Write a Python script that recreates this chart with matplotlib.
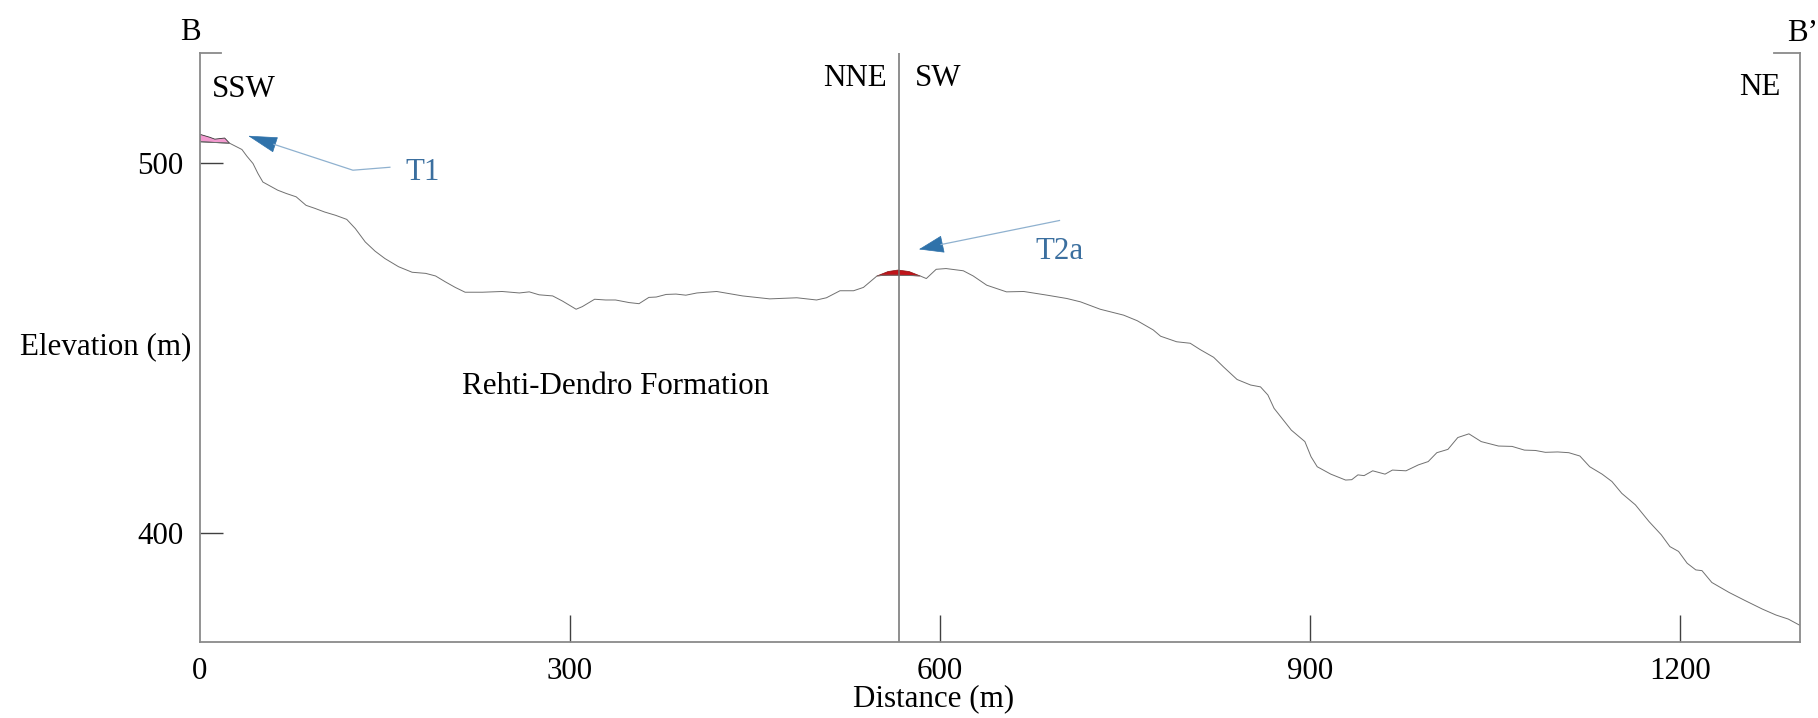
import matplotlib
matplotlib.use("Agg")
import matplotlib.pyplot as plt
import numpy as np
from matplotlib.patches import Polygon, FancyArrowPatch

plt.rcParams['font.family'] = ['Liberation Serif', 'DejaVu Serif']

# ---- data ----
distance = [0, 24, 34, 38, 43, 47, 51, 57, 63, 70, 78, 86, 93, 101, 110, 119, 126, 134, 142,
            150, 161, 172, 183, 191, 199, 207, 215, 229, 245, 259, 267, 275, 286, 294, 305,
            310, 320, 329, 337, 348, 356, 364, 370, 378, 386, 394, 403, 419, 440, 462, 484,
            500, 508, 519, 530, 538, 549, 554, 566, 578, 584, 589, 597, 605, 619, 627, 638,
            654, 668, 687, 703, 714, 730, 749, 760, 773, 779, 792, 803, 811, 822, 830, 841,
            852, 860, 866, 871, 885, 896, 901, 906, 917, 929, 934, 939, 944, 951, 961, 967,
            978, 988, 996, 1003, 1012, 1020, 1029, 1039, 1053, 1064, 1074, 1083, 1091, 1101,
            1110, 1119, 1127, 1137, 1145, 1153, 1164, 1175, 1185, 1192, 1199, 1206, 1213,
            1218, 1226, 1240, 1253, 1267, 1278, 1288, 1298]
elevation = [505.8, 505.4, 503.7, 501.9, 499.9, 497.2, 494.9, 493.8, 492.7, 491.8, 490.9,
             488.6, 487.8, 486.8, 485.9, 484.8, 482.3, 478.7, 476.2, 474.2, 472.0, 470.5,
             470.2, 469.5, 467.9, 466.4, 465.1, 465.1, 465.3, 464.9, 465.2, 464.4, 464.1,
             462.7, 460.5, 461.2, 463.2, 463.0, 463.0, 462.3, 462.0, 463.7, 463.8, 464.5,
             464.6, 464.3, 464.9, 465.3, 464.1, 463.3, 463.6, 463.0, 463.6, 465.5, 465.5,
             466.4, 469.5, 469.7, 469.7, 469.6, 469.5, 468.8, 471.3, 471.5, 470.9, 469.5,
             467.0, 465.2, 465.3, 464.3, 463.4, 462.5, 460.5, 458.9, 457.4, 454.9, 453.2,
             451.7, 451.3, 449.6, 447.5, 444.9, 441.5, 440.0, 439.5, 437.3, 433.7, 427.8,
             424.7, 420.6, 417.9, 415.9, 414.3, 414.4, 415.7, 415.5, 416.8, 415.9, 417.0,
             416.8, 418.4, 419.3, 421.7, 422.6, 425.8, 426.8, 424.7, 423.5, 423.4, 422.4,
             422.3, 421.8, 421.9, 421.7, 420.8, 417.9, 415.9, 413.9, 410.7, 407.6, 403.1,
             399.5, 396.3, 395.0, 391.8, 390.0, 389.8, 386.6, 383.9, 381.7, 379.4, 377.8,
             376.7, 374.9]

# T1 deposit (top outline, left to right) and T2a lens (top outline)
t1_top_x = [0, 8, 12, 20, 24]
t1_top_y = [507.8, 507.0, 506.5, 506.8, 505.4]
t2a_top_x = [549, 558, 566, 575, 584]
t2a_top_y = [469.5, 470.7, 471.1, 470.7, 469.5]

divider_x = 567
x_ticks = [0, 300, 600, 900, 1200]
x_ticklabels = ['0', '300', '600', '900', '1200']
y_ticks = [400, 500]
y_ticklabels = ['400', '500']

# annotation arrows (data coords): shaft path, head base, tip
t1_shaft = [(154, 498.9), (124, 498.1), (60, 505.1)]
t1_head_base = (60, 505.1)
t1_tip = (39, 507.4)
t2a_shaft = [(697, 484.5), (601, 478.0)]
t2a_head_base = (601, 478.0)
t2a_tip = (583, 476.7)

W, H = 1818, 718
fig = plt.figure(figsize=(W / 100, H / 100), dpi=100)
ax = fig.add_axes([200 / W, 1 - 642 / H, 1600 / W, (642 - 53) / H])
ax.set_xlim(0, 1297.5)
ax.set_ylim(370.5, 529.8)

spine_col = '#8a8a8a'
for s in ['left', 'bottom', 'right']:
    ax.spines[s].set_color(spine_col)
    ax.spines[s].set_linewidth(1.3)
ax.spines['top'].set_visible(False)
# top brackets
ax.plot([0, 0.013], [1, 1], transform=ax.transAxes, color=spine_col, lw=1.3, clip_on=False)
ax.plot([0.984, 1], [1, 1], transform=ax.transAxes, color=spine_col, lw=1.3, clip_on=False)

ax.set_xticks(x_ticks)
ax.set_xticklabels(x_ticklabels)
ax.set_yticks(y_ticks)
ax.set_yticklabels(y_ticklabels)
ax.tick_params(axis='x', direction='in', length=19.5, width=1.0, color='#404040',
               labelsize=22.3, pad=11)
ax.tick_params(axis='y', direction='in', length=16.5, width=1.0, color='#404040',
               labelsize=22.3, pad=12)
# tick at 0 coincides with the spine: hide its line
ax.xaxis.get_major_ticks()[0].tick1line.set_visible(False)

# profile
ax.plot(distance, elevation, color='#707070', lw=0.7)

# divider
ax.axvline(divider_x, color='#707070', lw=1.1)


def profile_at(x):
    return float(np.interp(x, distance, elevation))


# T1 polygon
poly1 = list(zip(t1_top_x, t1_top_y)) + [(x, profile_at(x)) for x in reversed(t1_top_x)]
ax.add_patch(Polygon(poly1, closed=True, facecolor='#f29acf', edgecolor='#333333', lw=0.6))
# T2a lens
poly2 = list(zip(t2a_top_x, t2a_top_y)) + [(x, profile_at(x)) for x in reversed(t2a_top_x)]
ax.add_patch(Polygon(poly2, closed=True, facecolor='#c0141a', edgecolor='#8a1010', lw=0.5))

arrow_line = '#8fb1cf'
head_col = '#2f72aa'
# T1 arrow
ax.plot([p[0] for p in t1_shaft], [p[1] for p in t1_shaft], color=arrow_line, lw=0.9)
ax.add_patch(FancyArrowPatch(t1_head_base, t1_tip,
                             arrowstyle='-|>,head_length=19.5,head_width=5.3',
                             mutation_scale=1, color=head_col, lw=0.5,
                             shrinkA=0, shrinkB=0))
# T2a arrow
ax.plot([p[0] for p in t2a_shaft], [p[1] for p in t2a_shaft], color=arrow_line, lw=0.9)
ax.add_patch(FancyArrowPatch(t2a_head_base, t2a_tip,
                             arrowstyle='-|>,head_length=16.5,head_width=5.8',
                             mutation_scale=1, color=head_col, lw=0.5,
                             shrinkA=0, shrinkB=0))


def ftext(px, py, s, **kw):
    kw.setdefault('fontsize', 22.3)
    fig.text(px / W, 1 - py / H, s, **kw)


ftext(190, 40, 'B', ha='center', va='baseline')
ftext(1787, 41, 'B\u2019', ha='left', va='baseline')
ftext(212, 97, 'SSW', ha='left', va='baseline')
ftext(887, 86, 'NNE', ha='right', va='baseline')
ftext(915, 86, 'SW', ha='left', va='baseline')
ftext(1780, 95, 'NE', ha='right', va='baseline')
ftext(405, 180, 'T1', ha='left', va='baseline', color='#3b6f9f')
ftext(1035, 259, 'T2a', ha='left', va='baseline', color='#3b6f9f')
ftext(616, 394, 'Rehti-Dendro Formation', ha='center', va='baseline')
ftext(20, 354, 'Elevation (m)', ha='left', va='baseline')
ftext(934, 706, 'Distance (m)', ha='center', va='baseline')

fig.savefig('out.png', dpi=100)
